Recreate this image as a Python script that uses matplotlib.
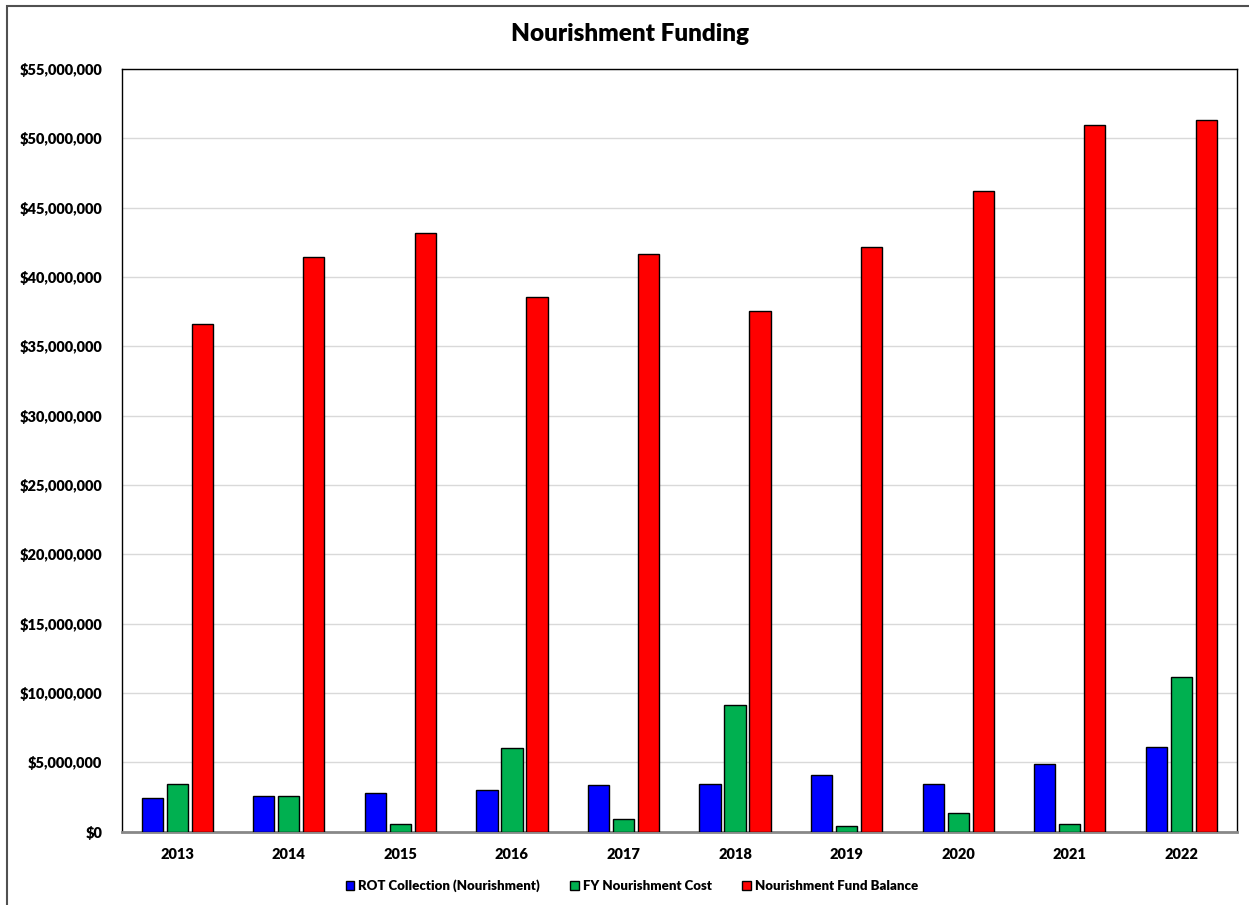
import matplotlib
matplotlib.use("Agg")
import matplotlib.pyplot as plt
from matplotlib.patches import Rectangle
from matplotlib.ticker import FuncFormatter
import numpy as np

years = ["2013", "2014", "2015", "2016", "2017", "2018", "2019", "2020", "2021", "2022"]
rot_collection = [2.40e6, 2.57e6, 2.79e6, 2.98e6, 3.39e6, 3.41e6, 4.06e6, 3.44e6, 4.90e6, 6.08e6]
fy_cost = [3.46e6, 2.57e6, 0.55e6, 6.03e6, 0.91e6, 9.11e6, 0.38e6, 1.37e6, 0.53e6, 11.13e6]
fund_balance = [36.63e6, 41.46e6, 43.20e6, 38.58e6, 41.68e6, 37.57e6, 42.19e6, 46.23e6, 50.99e6, 51.35e6]
series_names = ["ROT Collection (Nourishment)", "FY Nourishment Cost", "Nourishment Fund Balance"]
colors = ["#0000FF", "#00B050", "#FF0000"]

plt.rcParams['font.family'] = ['Lato', 'DejaVu Sans']
W = "heavy"

fig = plt.figure(figsize=(12.49, 9.05), dpi=100)
fig.patches.append(Rectangle((7/1249, -20/905), 1300/1249, 919/905, transform=fig.transFigure,
                             fill=False, edgecolor="#505050", linewidth=1.5))
ax = fig.add_axes([121.5/1249, 1 - 831.7/905, (1237 - 121.5)/1249, (831.7 - 69)/905])

x = np.arange(len(years))
w = 0.19
step = 0.224
for i, (vals, name, c) in enumerate(zip([rot_collection, fy_cost, fund_balance], series_names, colors)):
    ax.bar(x + (i - 1) * step, vals, width=w, color=c, edgecolor="black", linewidth=1.0,
           label=name, zorder=3)

ax.set_xlim(-0.5, len(years) - 0.5)
ax.set_ylim(0, 55e6)
ax.set_yticks(np.arange(0, 55e6 + 1, 5e6))
ax.yaxis.set_major_formatter(FuncFormatter(lambda v, p: "${:,.0f}".format(v)))
ax.set_xticks(x)
ax.set_xticklabels(years)
ax.grid(axis="y", color="#d9d9d9", linewidth=1.0, zorder=0)
ax.set_axisbelow(True)
ax.tick_params(axis="both", length=0)
ax.tick_params(axis="y", pad=14, labelsize=10.5)
ax.tick_params(axis="x", pad=12, labelsize=10.5)
for lab in ax.get_xticklabels() + ax.get_yticklabels():
    lab.set_fontweight(W)

for s in ["left", "top", "right"]:
    ax.spines[s].set_color("black")
    ax.spines[s].set_linewidth(1.0)
ax.spines["bottom"].set_color("#888888")
ax.spines["bottom"].set_linewidth(2.0)

fig.text(630/1249, 1 - 34/905, "Nourishment Funding", ha="center", va="center",
         fontsize=17.5, fontweight=W)

leg = fig.legend(loc="center", bbox_to_anchor=(632/1249, 1 - 886/905), ncol=3, frameon=False,
                 prop={"size": 9.5, "weight": W}, handlelength=0.65, handleheight=0.65,
                 handletextpad=0.3, columnspacing=2.3)

fig.savefig("out.png", dpi=100)
